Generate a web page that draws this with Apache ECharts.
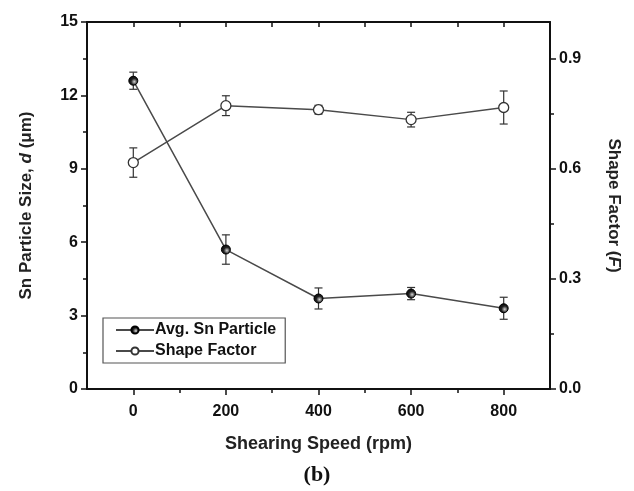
<!DOCTYPE html>
<html>
<head>
<meta charset="utf-8">
<script src="https://cdn.jsdelivr.net/npm/echarts@6/dist/echarts.min.js"></script>
<style>
  html, body { margin: 0; padding: 0; background: #fff; }
  #main { width: 634px; height: 491px; }
</style>
</head>
<body>
<div id="main"></div>
<script>
// data
var speeds = [0, 200, 400, 600, 800];
var sizeMean = [12.6, 5.7, 3.7, 3.9, 3.3];
var sizeErr = [0.35, 0.6, 0.43, 0.25, 0.45];
var shapeMean = [0.617, 0.772, 0.761, 0.734, 0.767];
var shapeErr = [0.04, 0.027, 0.012, 0.02, 0.045];

var xMajor = [0, 200, 400, 600, 800];
var xMinor = [100, 300, 500, 700];
var rightMajor = [0, 0.3, 0.6, 0.9];
var rightMinor = [0.15, 0.45, 0.75];

var FONT = '"Liberation Sans", Arial, sans-serif';
var INK = '#111';
var LINE = '#4a4a4a';

function pairs(xs, ys) {
  return xs.map(function (x, i) { return [x, ys[i]]; });
}
function errData(xs, ys, es) {
  return xs.map(function (x, i) { return [x, ys[i] - es[i], ys[i] + es[i]]; });
}

// vertical error bar with caps
function errRender(params, api) {
  var top = api.coord([api.value(0), api.value(2)]);
  var bot = api.coord([api.value(0), api.value(1)]);
  var w = 4;
  var st = { stroke: '#333', lineWidth: 1.2 };
  return {
    type: 'group',
    children: [
      { type: 'line', shape: { x1: top[0], y1: top[1], x2: bot[0], y2: bot[1] }, style: st },
      { type: 'line', shape: { x1: top[0] - w, y1: top[1], x2: top[0] + w, y2: top[1] }, style: st },
      { type: 'line', shape: { x1: bot[0] - w, y1: bot[1], x2: bot[0] + w, y2: bot[1] }, style: st }
    ]
  };
}

var chart = echarts.init(document.getElementById('main'), null, { renderer: 'canvas' });

var axisLine = { show: true, onZero: false, lineStyle: { color: INK, width: 2 } };
var noLine = { show: false, onZero: false };
var tickStyle = { color: INK, width: 1.5 };
var labelStyle = { color: INK, fontSize: 16, fontWeight: 'bold', fontFamily: FONT };

var option = {
  backgroundColor: '#ffffff',
  animation: false,
  grid: { left: 87, right: 84, top: 22, bottom: 102 },
  legend: {
    left: 103,
    top: 318,
    orient: 'vertical',
    itemWidth: 38,
    itemHeight: 9,
    itemGap: 5,
    padding: [4, 9, 4, 12],
    borderColor: '#555',
    borderWidth: 1.2,
    textStyle: { color: INK, fontSize: 16, fontWeight: 'bold', fontFamily: FONT, padding: [0, 0, 0, -4] },
    data: ['Avg. Sn Particle', 'Shape Factor']
  },
  xAxis: [
    {
      type: 'value', position: 'bottom', min: -100, max: 900, interval: 100,
      name: 'Shearing Speed (rpm)', nameLocation: 'middle', nameGap: 46,
      nameTextStyle: { color: '#222', fontSize: 18, fontWeight: 'bold', fontFamily: FONT },
      axisLine: axisLine,
      axisTick: { show: true, customValues: xMajor, length: 6, lineStyle: tickStyle },
      axisLabel: Object.assign({ customValues: xMajor, margin: 15 }, labelStyle),
      splitLine: { show: false }
    },
    {
      type: 'value', position: 'bottom', min: -100, max: 900, interval: 100,
      axisLine: noLine,
      axisTick: { show: true, customValues: xMinor, length: 4, lineStyle: tickStyle },
      axisLabel: { show: false },
      splitLine: { show: false }
    },
    {
      type: 'value', position: 'top', min: -100, max: 900, interval: 100,
      axisLine: axisLine,
      axisTick: { show: true, inside: true, customValues: xMajor.concat(xMinor), length: 5, lineStyle: tickStyle },
      axisLabel: { show: false },
      splitLine: { show: false }
    }
  ],
  yAxis: [
    {
      type: 'value', position: 'left', min: 0, max: 15, interval: 3,
      name: '{a|Sn Particle Size, }{i|d}{a| (μm)}', nameLocation: 'middle', nameGap: 52,
      nameTextStyle: {
        rich: {
          a: { color: '#222', fontSize: 17, fontWeight: 'bold', fontFamily: FONT },
          i: { color: '#222', fontSize: 17, fontWeight: 'bold', fontStyle: 'italic', fontFamily: FONT }
        }
      },
      axisLine: axisLine,
      axisTick: { show: true, length: 6, lineStyle: tickStyle },
      minorTick: { show: true, splitNumber: 2, length: 4, lineStyle: tickStyle },
      axisLabel: Object.assign({ margin: 9 }, labelStyle),
      splitLine: { show: false }
    },
    {
      type: 'value', position: 'right', min: 0, max: 1.0, interval: 0.3,
      name: '{a|Shape Factor (}{i|F}{a|)}', nameLocation: 'middle', nameGap: 55, nameRotate: -90,
      nameTextStyle: {
        rich: {
          a: { color: '#222', fontSize: 17, fontWeight: 'bold', fontFamily: FONT },
          i: { color: '#222', fontSize: 17, fontWeight: 'bold', fontStyle: 'italic', fontFamily: FONT }
        }
      },
      axisLine: axisLine,
      axisTick: { show: true, customValues: rightMajor, length: 6, lineStyle: tickStyle },
      axisLabel: Object.assign({
        customValues: rightMajor, margin: 9,
        formatter: function (v) { return v.toFixed(1); }
      }, labelStyle),
      splitLine: { show: false }
    },
    {
      type: 'value', position: 'right', min: 0, max: 1.0, interval: 0.3,
      axisLine: noLine,
      axisTick: { show: true, customValues: rightMinor, length: 4, lineStyle: tickStyle },
      axisLabel: { show: false },
      splitLine: { show: false }
    }
  ],
  series: [
    {
      name: 'Avg. Sn Particle',
      type: 'line',
      yAxisIndex: 0,
      data: pairs(speeds, sizeMean),
      symbol: 'circle',
      symbolSize: 9,
      z: 3,
      lineStyle: { color: LINE, width: 1.5 },
      itemStyle: {
        color: {
          type: 'radial', x: 0.6, y: 0.6, r: 0.7,
          colorStops: [{ offset: 0, color: '#d8d8d8' }, { offset: 0.45, color: '#222' }, { offset: 1, color: '#000' }]
        },
        borderColor: '#000',
        borderWidth: 1
      }
    },
    {
      name: 'Shape Factor',
      type: 'line',
      yAxisIndex: 1,
      data: pairs(speeds, shapeMean),
      symbol: 'circle',
      symbolSize: 10,
      showAllSymbol: true,
      z: 3,
      lineStyle: { color: LINE, width: 1.5 },
      itemStyle: { color: '#ffffff', borderColor: '#333', borderWidth: 1.3 }
    },
    {
      name: 'sizeErr',
      type: 'custom',
      yAxisIndex: 0,
      renderItem: errRender,
      encode: { x: 0, y: [1, 2] },
      data: errData(speeds, sizeMean, sizeErr),
      z: 2
    },
    {
      name: 'shapeErr',
      type: 'custom',
      yAxisIndex: 1,
      renderItem: errRender,
      encode: { x: 0, y: [1, 2] },
      data: errData(speeds, shapeMean, shapeErr),
      z: 2
    }
  ],
  graphic: [
    {
      type: 'text',
      left: 'center',
      top: 464,
      style: { text: '(b)', fill: '#111', font: 'bold 22px "Liberation Serif", "Times New Roman", serif' }
    }
  ]
};

chart.setOption(option);
</script>
</body>
</html>
